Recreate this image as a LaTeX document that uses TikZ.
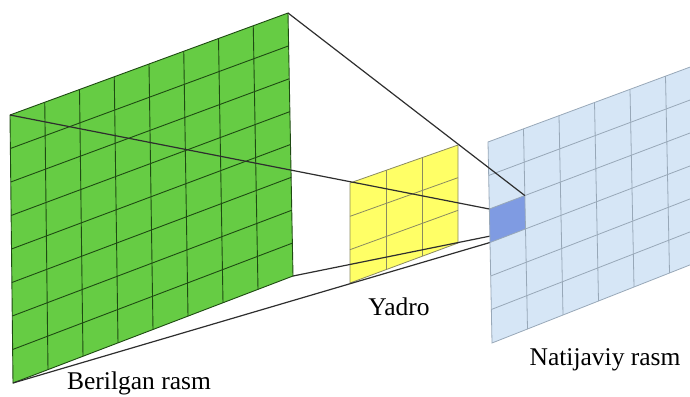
\documentclass[tikz,border=0pt]{standalone}
\usepackage{fontspec}
\setmainfont{Liberation Serif}
\usetikzlibrary{calc}
\definecolor{greenfill}{HTML}{66CC44}
\definecolor{greengrid}{HTML}{1E4A12}
\definecolor{yellowfill}{HTML}{FFFF66}
\definecolor{yellowgrid}{HTML}{8A8A60}
\definecolor{lightblue}{HTML}{D6E6F6}
\definecolor{bluegrid}{HTML}{98A8B8}
\definecolor{cellblue}{HTML}{7F9BE2}
\definecolor{linecol}{HTML}{2E2E2E}
\tikzset{
  conn/.style={draw=linecol, line width=1.2pt},
  gridg/.style={draw=greengrid, line width=0.9pt},
  gridy/.style={draw=yellowgrid, line width=0.8pt},
  gridb/.style={draw=bluegrid, line width=0.8pt},
  label/.style={font=\fontsize{25.5}{30}\selectfont, text=black, inner sep=0pt, anchor=base}
}
\begin{document}
\begin{tikzpicture}[x=1pt,y=-1pt]
\useasboundingbox (0,0) rectangle (690,396);
\clip (0,0) rectangle (690,396);
% corners
\coordinate (GTL) at (10,115);
\coordinate (GTR) at (288,13);
\coordinate (GBR) at (293,276);
\coordinate (GBL) at (13,383);
\coordinate (YTL) at (350,183);
\coordinate (YTR) at (458,145);
\coordinate (YBR) at (458,243);
\coordinate (YBL) at (350,283);
\coordinate (BTL) at (488,142);
\coordinate (BTR) at (701,63);
\coordinate (BBR) at (705,259);
\coordinate (BBL) at (492,343);
% blue cell corners
\coordinate (CTL) at ($(BTL)!2/6!(BBL)$);
\coordinate (CBL) at ($(BTL)!3/6!(BBL)$);
\coordinate (T1) at ($(BTL)!1/6!(BTR)$);
\coordinate (B1) at ($(BBL)!1/6!(BBR)$);
\coordinate (CTR) at ($(T1)!2/6!(B1)$);
\coordinate (CBR) at ($(T1)!3/6!(B1)$);
% green panel
\fill[greenfill] (GTL) -- (GTR) -- (GBR) -- (GBL) -- cycle;
\foreach \i in {1,...,7}{
  \draw[gridg] ($(GTL)!\i/8!(GTR)$) -- ($(GBL)!\i/8!(GBR)$);
  \draw[gridg] ($(GTL)!\i/8!(GBL)$) -- ($(GTR)!\i/8!(GBR)$);
}
\draw[gridg] (GTL) -- (GTR) -- (GBR) -- (GBL) -- cycle;
% yellow panel
\fill[yellowfill] (YTL) -- (YTR) -- (YBR) -- (YBL) -- cycle;
\foreach \i in {1,2}{
  \draw[gridy] ($(YTL)!\i/3!(YTR)$) -- ($(YBL)!\i/3!(YBR)$);
  \draw[gridy] ($(YTL)!\i/3!(YBL)$) -- ($(YTR)!\i/3!(YBR)$);
}
\draw[gridy] (YTL) -- (YTR) -- (YBR) -- (YBL) -- cycle;
% lower connectors (partly hidden by output panel)
\draw[conn] (GBR) -- (CBR);
\draw[conn] (GBL) -- (CBL);
% output panel
\fill[lightblue] (BTL) -- (BTR) -- (BBR) -- (BBL) -- cycle;
\fill[cellblue] (CTL) -- (CTR) -- (CBR) -- (CBL) -- cycle;
\foreach \i in {1,...,5}{
  \draw[gridb] ($(BTL)!\i/6!(BTR)$) -- ($(BBL)!\i/6!(BBR)$);
  \draw[gridb] ($(BTL)!\i/6!(BBL)$) -- ($(BTR)!\i/6!(BBR)$);
}
\draw[gridb] (BTL) -- (BTR) -- (BBR) -- (BBL) -- cycle;
% upper connectors
\draw[conn] (GTL) -- (CTL);
\draw[conn] (GTR) -- (CTR);
% labels
\node[label] (lin) at (139,389.5) {Berilgan rasm};
\node[label] (lker) at (399,315) {Yadro};
\node[label] (lout) at (605,365) {Natijaviy rasm};
\end{tikzpicture}
\end{document}
